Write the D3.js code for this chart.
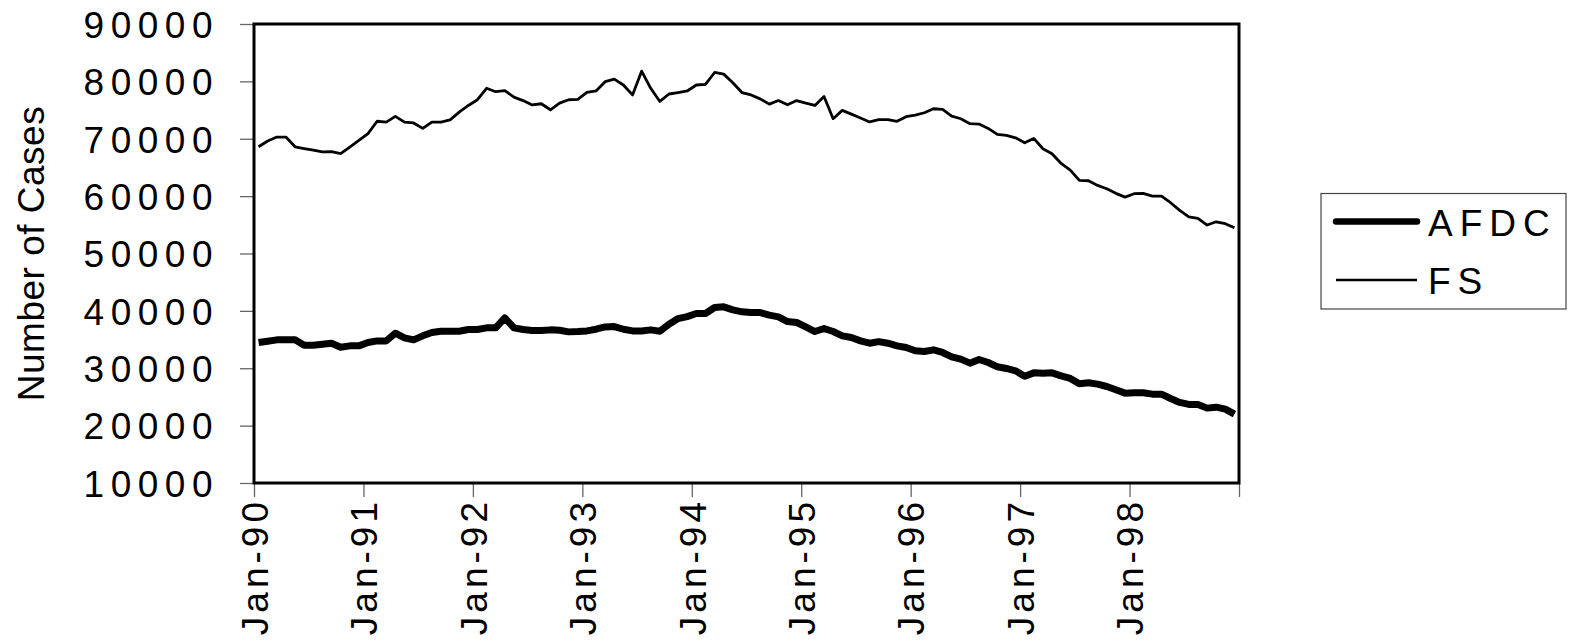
<!DOCTYPE html>
<html>
<head>
<meta charset="utf-8">
<script src="https://cdn.jsdelivr.net/npm/d3@7"></script>
<style>
  html, body { margin: 0; padding: 0; background: #fff; }
  svg { display: block; font-family: "Liberation Sans", Arial, sans-serif; }
</style>
</head>
<body>
<svg id="chart" width="1575" height="642"></svg>
<script>
// ---- data (monthly, Jan-90 .. Dec-98) ----
const tickLabels = ["Jan-90","Jan-91","Jan-92","Jan-93","Jan-94","Jan-95","Jan-96","Jan-97","Jan-98"];
const yTicks = [10000,20000,30000,40000,50000,60000,70000,80000,90000];
const seriesNames = ["AFDC","FS"];

const afdc = [
  34480,34700,34950,34950,34950,34020,34020,34200,34370,33670,33900,33900,
  34480,34770,34770,36110,35300,34950,35650,36230,36460,36460,36460,36750,
  36750,37040,37040,38780,37040,36750,36570,36570,36690,36630,36340,36400,
  36510,36800,37210,37270,36800,36510,36510,36690,36460,37680,38660,39010,
  39540,39540,40580,40700,40170,39830,39710,39710,39250,38950,38140,37970,
  37210,36400,36920,36400,35640,35350,34770,34360,34650,34360,33900,33620,
  33040,32920,33210,32750,31990,31590,30890,31530,31000,30250,29960,29550,
  28620,29200,29150,29200,28680,28220,27290,27460,27230,26820,26240,25660,
  25720,25720,25490,25490,24730,24040,23690,23690,23050,23220,22870,22000
];
const fs = [
  68600,69600,70300,70300,68600,68300,68000,67700,67750,67400,68550,69700,
  70900,73050,72900,73900,72900,72750,71800,72900,72900,73300,74650,75800,
  76800,78800,78200,78400,77250,76650,75900,76100,75050,76200,76800,76850,
  78100,78330,79940,80400,79370,77640,81780,78790,76500,77800,78050,78330,
  79370,79480,81550,81260,79770,78050,77640,76950,76030,76660,75920,76660,
  76200,75800,77350,73500,74940,74300,73620,72930,73330,73330,73040,73850,
  74125,74530,75230,75110,73950,73490,72620,72560,71800,70760,70580,70170,
  69300,70060,68260,67390,65700,64540,62740,62680,61870,61290,60480,59830,
  60420,60480,60000,60000,58850,57510,56400,56120,54960,55530,55190,54490
];

// ---- layout ----
const svg = d3.select("#chart");
const plotLeft = 254, plotRight = 1239, plotTop = 24, plotBottom = 483;
const nMonths = afdc.length;

const x = d3.scaleLinear().domain([0, nMonths]).range([plotLeft, plotRight]);
const y = d3.scaleLinear().domain([10000, 90000]).range([plotBottom, plotTop]);

const FONT = 37;

// y axis
const yAxis = svg.append("g")
  .attr("transform", `translate(${plotLeft},0)`)
  .call(d3.axisLeft(y).tickValues(yTicks).tickSize(14).tickPadding(0).tickFormat(d3.format("d")));
yAxis.select(".domain").remove();
yAxis.selectAll(".tick line").attr("stroke", "#666").attr("stroke-width", 1.3);
yAxis.selectAll(".tick text")
  .attr("x", -35)
  .attr("dy", "0.36em")
  .style("font-size", FONT + "px")
  .style("letter-spacing", "6.5px")
  .attr("fill", "#000");

// x axis
const xTickVals = d3.range(0, nMonths + 1, 12);
const xAxis = svg.append("g")
  .attr("transform", `translate(0,${plotBottom})`)
  .call(d3.axisBottom(x).tickValues(xTickVals).tickSize(14)
    .tickFormat((d) => tickLabels[d / 12] || ""));
xAxis.select(".domain").remove();
xAxis.selectAll(".tick line").attr("stroke", "#666").attr("stroke-width", 1.3);
xAxis.selectAll(".tick text")
  .attr("transform", "rotate(-90)")
  .attr("x", -15)
  .attr("y", 0)
  .attr("dy", "0.36em")
  .attr("text-anchor", "end")
  .style("font-size", FONT + "px")
  .style("letter-spacing", "4px")
  .attr("fill", "#000");

// y axis title
svg.append("text")
  .attr("transform", `translate(44,${(plotTop + plotBottom) / 2}) rotate(-90)`)
  .attr("text-anchor", "middle")
  .style("font-size", FONT + "px")
  .style("letter-spacing", "0.5px")
  .text("Number of Cases");

// lines
const line = d3.line()
  .x((d, i) => x(i + 0.5))
  .y((d) => y(d));

svg.append("path")
  .datum(fs)
  .attr("d", line)
  .attr("fill", "none")
  .attr("stroke", "#000")
  .attr("stroke-width", 2.8)
  .attr("stroke-linejoin", "round");

svg.append("path")
  .datum(afdc)
  .attr("d", line)
  .attr("fill", "none")
  .attr("stroke", "#000")
  .attr("stroke-width", 7)
  .attr("stroke-linejoin", "round");

// plot frame
svg.append("rect")
  .attr("x", plotLeft).attr("y", plotTop)
  .attr("width", plotRight - plotLeft).attr("height", plotBottom - plotTop)
  .attr("fill", "none")
  .attr("stroke", "#000")
  .attr("stroke-width", 3);

// legend
const lg = svg.append("g");
lg.append("rect")
  .attr("x", 1321).attr("y", 193.5)
  .attr("width", 245).attr("height", 115.5)
  .attr("fill", "#fff")
  .attr("stroke", "#444")
  .attr("stroke-width", 1.2);
const legendItems = [
  { name: seriesNames[0], w: 6.5, cy: 221.5, by: 236 },
  { name: seriesNames[1], w: 2.4, cy: 280, by: 293.5 }
];
legendItems.forEach((it) => {
  lg.append("line")
    .attr("x1", 1336).attr("x2", 1417)
    .attr("y1", it.cy).attr("y2", it.cy)
    .attr("stroke", "#000")
    .attr("stroke-width", it.w)
    .attr("stroke-linecap", it.w > 4 ? "round" : "butt");
  lg.append("text")
    .attr("x", 1428).attr("y", it.by)
    .style("font-size", FONT + "px")
    .style("letter-spacing", "7px")
    .text(it.name);
});
</script>
</body>
</html>
